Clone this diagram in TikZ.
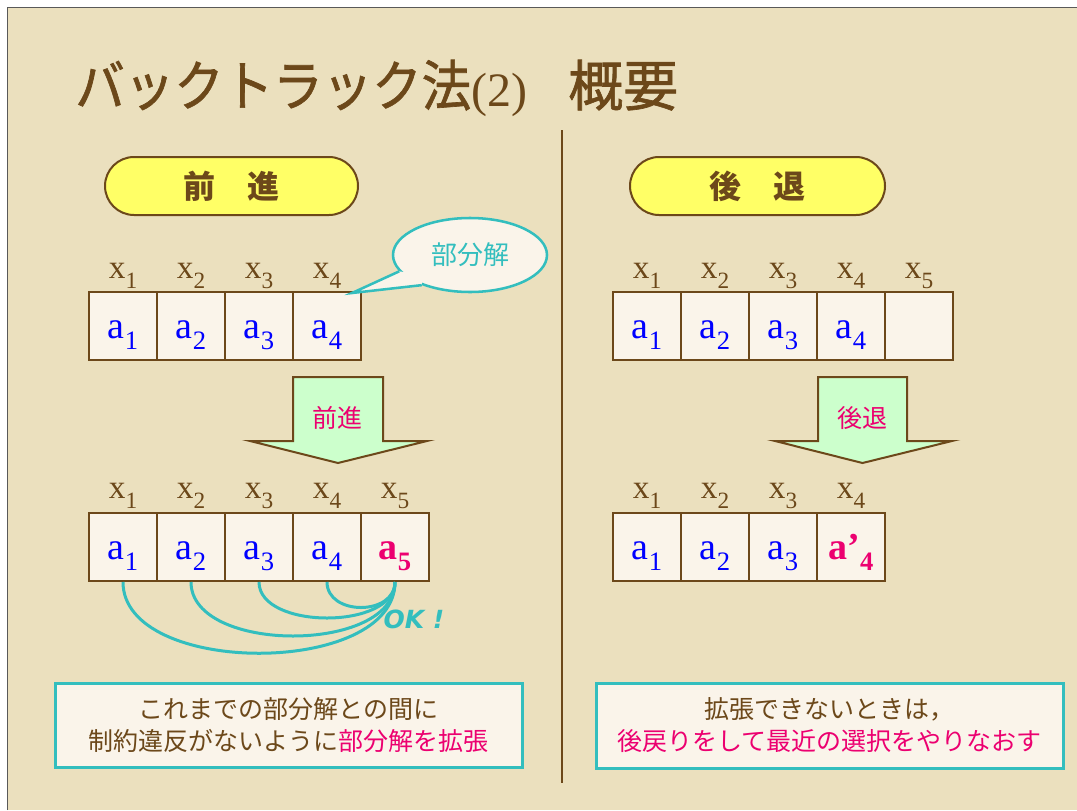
\documentclass[tikz,border=0pt]{standalone}
\usepackage{graphicx}
\usepackage{fontspec}
\setmainfont{Liberation Serif}
\newfontfamily\jp{Noto Sans CJK JP}
\newfontfamily\jptitle[FakeStretch=0.9,FakeBold=1.2]{Noto Sans CJK JP}
\newfontfamily\jptitleb[FakeBold=1.2]{Noto Sans CJK JP}
\newfontfamily\okfont{DejaVu Sans}
\usetikzlibrary{shapes.geometric,calc}
\definecolor{cBrown}{RGB}{108,72,26}
\definecolor{cTeal}{RGB}{51,190,190}
\definecolor{cMag}{RGB}{236,0,112}
\definecolor{cBlue}{RGB}{0,0,255}
\definecolor{cYel}{RGB}{255,255,102}
\definecolor{cGreen}{RGB}{204,255,204}
\definecolor{cCream}{RGB}{250,244,234}
\definecolor{cBg}{RGB}{235,224,190}
\newcommand\sbs[1]{\raisebox{-0.3em}{\scalebox{0.7}{#1}}}
\tikzset{
 pill/.style={draw=cBrown, line width=1.5pt, fill=cYel, rounded corners=21.75pt, inner sep=0pt,
   minimum height=43.5pt, font=\jp\bfseries\fontsize{24}{26}\selectfont, text=cBrown},
 cell/.style={draw=cBrown, line width=1.5pt, fill=cCream, minimum width=51pt, minimum height=51pt,
   inner sep=0pt, text height=18pt, text depth=0pt, font=\fontsize{28.5}{30}\selectfont, text=cBlue},
 hot/.style={text=cMag, font=\bfseries\fontsize{28.5}{30}\selectfont},
 xlab/.style={anchor=base, inner sep=0pt, text=cBrown, font=\fontsize{25}{27}\selectfont},
 blockarrow/.style={draw=cBrown, line width=1.5pt, fill=cGreen, line join=miter},
 arrowlbl/.style={text=cMag, font=\jp\fontsize{18.75}{20}\selectfont, inner sep=0pt},
 arcline/.style={draw=cTeal, line width=2.25pt},
 note/.style={draw=cTeal, line width=2.25pt, fill=cCream, align=center, inner sep=0pt,
   font=\jp\fontsize{18.75}{24}\selectfont, text=cBrown},
}
\begin{document}
\begin{tikzpicture}[x=0.75pt,y=-0.75pt]
\useasboundingbox (0,0) rectangle (1077,810);
\fill[white] (0,0) rectangle (1077,810);
\fill[cBg] (7,7) rectangle (1077,810);
\draw[black!65, line width=0.75pt] (7.5,810) -- (7.5,7.5) -- (1077,7.5);

% title
\node[anchor=base west, inner sep=0pt, text=cBrown, font=\jptitle\fontsize{41.25}{45}\selectfont] (t1) at (75,106) {バックトラック法};
\node[anchor=base west, inner sep=0pt, text=cBrown, font=\fontsize{36}{38}\selectfont] (t2) at (t1.base east) {(2)};
\node[anchor=base west, inner sep=0pt, text=cBrown, font=\jptitleb\fontsize{41.25}{45}\selectfont] (t3) at (568,106) {概要};

% divider
\draw[cBrown, line width=1.9pt] (562,130) -- (562,783);

% pills
\node[pill, minimum width=189.75pt] (fwd) at (231.5,186) {前　進};
\node[pill, minimum width=191.25pt] (bwd) at (757.5,186) {後　退};

% left top row
\foreach \i/\cx in {1/123,2/191,3/259,4/327} {
  \node[xlab] (ltx\i) at (\cx,278) {x\sbs{\i}};
  \node[cell] (lta\i) at (\cx,326) {a\sbs{\i}};
}
% callout
\node[ellipse, draw=cTeal, line width=1.9pt, fill=cCream, minimum width=115.5pt, minimum height=55.5pt,
  inner sep=0pt, text=cTeal, font=\jp\fontsize{19.5}{21}\selectfont] (bub) at (470,255) {部分解};
\coordinate (tip) at (352,293);
\fill[cCream] (bub.193) -- (tip) -- (bub.212) -- ($(bub.center)!0.8!(bub.203)$) -- cycle;
\draw[cTeal, line width=1.9pt, line join=miter] (bub.193) -- (tip) -- (bub.212);

% left arrow
\draw[blockarrow] (293,377) -- (383,377) -- (383,441) -- (427,441) -- (338,463) -- (250,441) -- (293,441) -- cycle;
\node[arrowlbl] (fwdlbl) at (337,418) {前進};

% left bottom row
\foreach \i/\cx in {1/123,2/191,3/259,4/327,5/395} {
  \node[xlab] (lbx\i) at (\cx,498) {x\sbs{\i}};
}
\foreach \i/\cx in {1/123,2/191,3/259,4/327} {
  \node[cell] (lba\i) at (\cx,547) {a\sbs{\i}};
}
\node[cell, hot] (lba5) at (395,547) {a\sbs{5}};
\draw[arcline] (lba1.south) .. controls +(0,95) and +(0,95) .. (lba5.south);
\draw[arcline] (lba2.south) .. controls +(0,72) and +(0,72) .. (lba5.south);
\draw[arcline] (lba3.south) .. controls +(0,48) and +(0,48) .. (lba5.south);
\draw[arcline] (lba4.south) .. controls +(0,34) and +(0,34) .. (lba5.south);
\node[inner sep=0pt, text=cTeal, font=\okfont\bfseries\itshape\fontsize{18.75}{20}\selectfont] (ok) at (414,619) {OK !};

% left note
\node[note, minimum width=350.25pt, minimum height=63pt] (lnote) at (288.5,725)
  {これまでの部分解との間に\\制約違反がないように\textcolor{cMag}{部分解を拡張}};

% right top row
\foreach \i/\cx in {1/647,2/715,3/783,4/851,5/919} {
  \node[xlab] (rtx\i) at (\cx,278) {x\sbs{\i}};
}
\foreach \i/\cx in {1/647,2/715,3/783,4/851} {
  \node[cell] (rta\i) at (\cx,326) {a\sbs{\i}};
}
\node[cell] (rta5) at (919,326) {};

% right arrow
\draw[blockarrow] (818,377) -- (907,377) -- (907,441) -- (952,441) -- (862.5,463) -- (775,441) -- (818,441) -- cycle;
\node[arrowlbl] (bwdlbl) at (862,418) {後退};

% right bottom row
\foreach \i/\cx in {1/647,2/715,3/783,4/851} {
  \node[xlab] (rbx\i) at (\cx,498) {x\sbs{\i}};
}
\foreach \i/\cx in {1/647,2/715,3/783} {
  \node[cell] (rba\i) at (\cx,547) {a\sbs{\i}};
}
\node[cell, hot] (rba4) at (851,547) {a\textquoteright\sbs{4}};

% right note
\node[note, minimum width=350.25pt, minimum height=63.75pt] (rnote) at (829.5,725.5)
  {拡張できないときは，\\\textcolor{cMag}{後戻りをして最近の選択をやりなおす}};
\end{tikzpicture}
\end{document}
